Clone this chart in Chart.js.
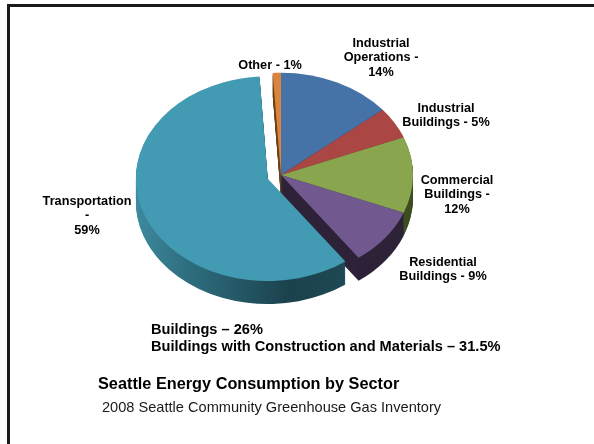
<!DOCTYPE html>
<html>
<head>
<meta charset="utf-8">
<script src="https://cdn.jsdelivr.net/npm/chart.js@4.4.1/dist/chart.umd.min.js"></script>
<style>
  html, body { margin: 0; padding: 0; background: #fff; }
  #wrap { position: relative; width: 594px; height: 444px; overflow: hidden; font-family: "Liberation Sans", Arial, sans-serif; }
  #pie { position: absolute; left: 0; top: 0; }
  .frame { position: absolute; left: 7px; top: 4px; right: -10px; bottom: -10px; border-top: 3px solid #1a1a1a; border-left: 3px solid #1a1a1a; }
  .lbl { position: absolute; font-weight: bold; font-size: 12.7px; line-height: 14.8px; text-align: center; white-space: pre; transform: translateX(-50%); color: #000; }
  .note { position: absolute; font-weight: bold; font-size: 14.6px; white-space: pre; color: #000; }
  .title { position: absolute; left: 98px; top: 374px; font-weight: bold; font-size: 16.3px; white-space: pre; color: #000; }
  .source { position: absolute; left: 102px; top: 399px; font-size: 14.6px; white-space: pre; color: #1a1a1a; }
</style>
</head>
<body>
<div id="wrap">
  <canvas id="pie" width="594" height="444"></canvas>
  <div class="frame"></div>
</div>
<script>
// energy use by sector, percent of total (2008 inventory)
const sectors = ['Industrial\nOperations', 'Industrial\nBuildings', 'Commercial\nBuildings', 'Residential\nBuildings', 'Transportation', 'Other'];
const shares = [14, 5, 12, 9, 59, 1];
const buildingSectors = [1, 2, 3];      // indexes that count as "Buildings"
const withMaterials = 31.5;             // buildings incl. construction and materials

const faceColors = ['#4572A7', '#AA4643', '#89A54E', '#71588F', '#429BB2', '#DB843D'];
const sideColors = ['#233A5A', '#5A2523', '#3E4E22', '#2D2238', null, '#6E4218'];
const pull = [0, 0, 0, 0, 14, 0];

// label placement: centre x, first line centre y, joiner between name and value
const labelLayout = [
  { x: 381, y: 43, sep: ' -\n' },
  { x: 446, y: 108, sep: ' - ' },
  { x: 457, y: 180, sep: ' -\n' },
  { x: 443, y: 262, sep: ' - ' },
  { x: 87, y: 201, sep: '\n-\n' },
  { x: 270, y: 65, sep: ' - ' }
];

// fake 3d: squash the pie, stack darker copies below for the rim, pull slices out
const pie3d = {
  id: 'pie3d',
  beforeDatasetsDraw(chart, args, opts) {
    const ctx = chart.ctx;
    const arcs = chart.getDatasetMeta(0).data;
    const cx = arcs[0].x, cy = arcs[0].y;

    const place = (arc, i, drop) => {
      const mid = (arc.startAngle + arc.endAngle) / 2;
      const p = opts.pull[i] || 0;
      ctx.translate(cx, cy + drop);
      ctx.scale(1, opts.tilt);
      ctx.translate(-cx + Math.cos(mid) * p, -cy + Math.sin(mid) * p);
    };

    const rim = ctx.createLinearGradient(cx - 146, 0, cx + 80, 0);
    rim.addColorStop(0, '#4391A5');
    rim.addColorStop(0.3, '#2D6D7E');
    rim.addColorStop(0.75, '#1B414C');
    rim.addColorStop(1, '#1E4955');

    for (let d = opts.depth; d > 0; d--) {
      arcs.forEach((arc, i) => {
        ctx.save();
        place(arc, i, d);
        const side = Object.create(arc);
        side.options = Object.assign({}, arc.options, {
          backgroundColor: opts.sides[i] || rim,
          borderWidth: 0
        });
        side.draw(ctx);
        ctx.restore();
      });
    }

    arcs.forEach((arc, i) => {
      ctx.save();
      place(arc, i, 0);
      arc.draw(ctx);
      ctx.restore();
    });
    return false;
  }
};

new Chart(document.getElementById('pie'), {
  type: 'pie',
  data: {
    labels: sectors,
    datasets: [{
      data: shares,
      backgroundColor: faceColors,
      borderWidth: 0,
      radius: 132
    }]
  },
  options: {
    responsive: false,
    animation: false,
    layout: { padding: { left: 131, right: 163, top: 25, bottom: 119 } },
    plugins: {
      legend: { display: false },
      tooltip: { enabled: false },
      pie3d: { tilt: 0.775, depth: 23, pull: pull, sides: sideColors }
    }
  },
  plugins: [pie3d]
});

const wrap = document.getElementById('wrap');
function addText(cls, text, css) {
  const el = document.createElement('div');
  el.className = cls;
  el.textContent = text;
  Object.assign(el.style, css);
  wrap.appendChild(el);
}

sectors.forEach((name, i) => {
  const lay = labelLayout[i];
  addText('lbl', name + lay.sep + shares[i] + '%', { left: lay.x + 'px', top: (lay.y - 7.4) + 'px' });
});

const buildings = buildingSectors.reduce((s, i) => s + shares[i], 0);
addText('note', 'Buildings \u2013 ' + buildings + '%', { left: '151px', top: '321px' });
addText('note', 'Buildings with Construction and Materials \u2013 ' + withMaterials + '%', { left: '151px', top: '338px' });
addText('title', 'Seattle Energy Consumption by Sector', {});
addText('source', '2008 Seattle Community Greenhouse Gas Inventory', {});
</script>
</body>
</html>
